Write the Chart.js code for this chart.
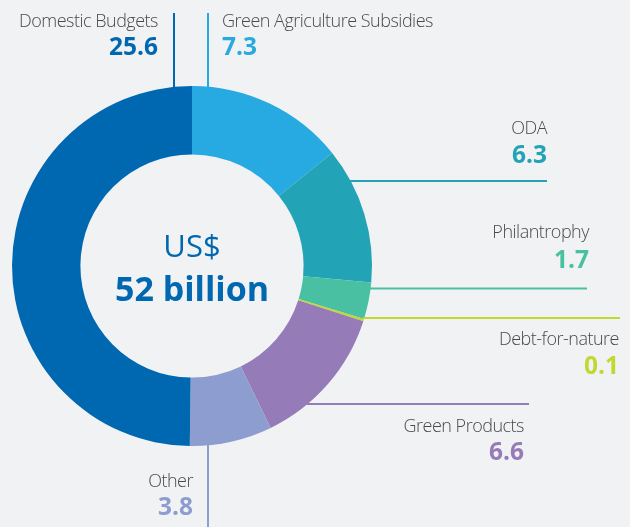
<!DOCTYPE html>
<html><head><meta charset="utf-8">
<script src="https://cdn.jsdelivr.net/npm/chart.js@4/dist/chart.umd.min.js"></script>
<style>html,body{margin:0;padding:0;background:#f1f2f4;}#wrap{width:630px;height:527px;position:relative;}</style>
</head><body><div id="wrap"><canvas id="c"></canvas></div>
<script>
// ---- data ----
const categories = ["Green Agriculture Subsidies","ODA","Philantrophy","Debt-for-nature","Green Products","Other","Domestic Budgets"];
const values = [7.3, 6.3, 1.7, 0.1, 6.6, 3.8, 25.6];
const valueLabels = ["7.3","6.3","1.7","0.1","6.6","3.8","25.6"];
const centerLines = ["US$","52 billion"];

// ---- styles ----
const colors = ["#27a9e1","#22a3b6","#48c0a1","#c2d731","#957bb7","#8e9dcf","#0068b0"];
const labelFont = '300 18px "Open Sans"';
const valueFont = 'bold 24.5px "Open Sans"';

// label / leader layout (pixel positions of annotations)
const layout = [
  {align:"left",  x:222, nameY:22,  valueY:48,  line:{type:"v", x:208, end:13}},
  {align:"right", x:547, nameY:129, valueY:156, line:{type:"h", y:181, end:547}},
  {align:"right", x:589, nameY:233, valueY:261, line:{type:"h", y:288.5, end:587}},
  {align:"right", x:619, nameY:340, valueY:367, line:{type:"h", y:318, end:620}},
  {align:"right", x:524, nameY:427, valueY:453, line:{type:"h", y:404, end:529}},
  {align:"right", x:193, nameY:482, valueY:508, line:{type:"v", x:208, end:527}},
  {align:"right", x:158, nameY:22,  valueY:48,  line:{type:"v", x:174, end:13}}
];

const labelPlugin = {
  id: "labels",
  afterDatasetsDraw(chart){
    const ctx = chart.ctx;
    const a0 = chart.getDatasetMeta(0).data[0];
    const cx = a0.x, cy = a0.y, R = a0.outerRadius;
    ctx.save();
    layout.forEach((L, i) => {
      ctx.strokeStyle = colors[i];
      ctx.lineWidth = 2;
      ctx.beginPath();
      if (L.line.type === "v") {
        const dx = L.line.x - cx;
        const h = Math.sqrt(Math.max(R*R - dx*dx, 0)) - 1;
        const ys = L.line.end < cy ? cy - h : cy + h;
        ctx.moveTo(L.line.x, ys); ctx.lineTo(L.line.x, L.line.end);
      } else {
        const dy = L.line.y - cy;
        const w = Math.sqrt(Math.max(R*R - dy*dy, 0)) - 1;
        ctx.moveTo(cx + w, L.line.y); ctx.lineTo(L.line.end, L.line.y);
      }
      ctx.stroke();
      ctx.textAlign = L.align;
      ctx.textBaseline = "middle";
      ctx.fillStyle = "#4a4a4c";
      ctx.font = labelFont;
      ctx.letterSpacing = "-0.5px";
      ctx.fillText(categories[i], L.x, L.nameY);
      ctx.letterSpacing = "0px";
      ctx.fillStyle = colors[i];
      ctx.font = valueFont;
      ctx.fillText(valueLabels[i], L.x, L.valueY);
    });
    ctx.textAlign = "center";
    ctx.textBaseline = "middle";
    ctx.fillStyle = "#0068b0";
    ctx.font = '31px "Open Sans"';
    ctx.fillText(centerLines[0], cx, cy - 18);
    ctx.font = 'bold 34px "Open Sans"';
    ctx.fillText(centerLines[1], cx, cy + 25);
    ctx.restore();
  }
};

new Chart(document.getElementById("c"), {
  type: "doughnut",
  data: {
    labels: categories,
    datasets: [{
      data: values,
      backgroundColor: colors,
      borderWidth: 0
    }]
  },
  options: {
    responsive: true,
    maintainAspectRatio: false,
    animation: false,
    cutout: "62%",
    rotation: 0,
    layout: {padding: {left: 12, right: 258, top: 86, bottom: 81}},
    plugins: {legend: {display: false}, tooltip: {enabled: false}},
    events: []
  },
  plugins: [labelPlugin]
});
</script>
</body></html>
